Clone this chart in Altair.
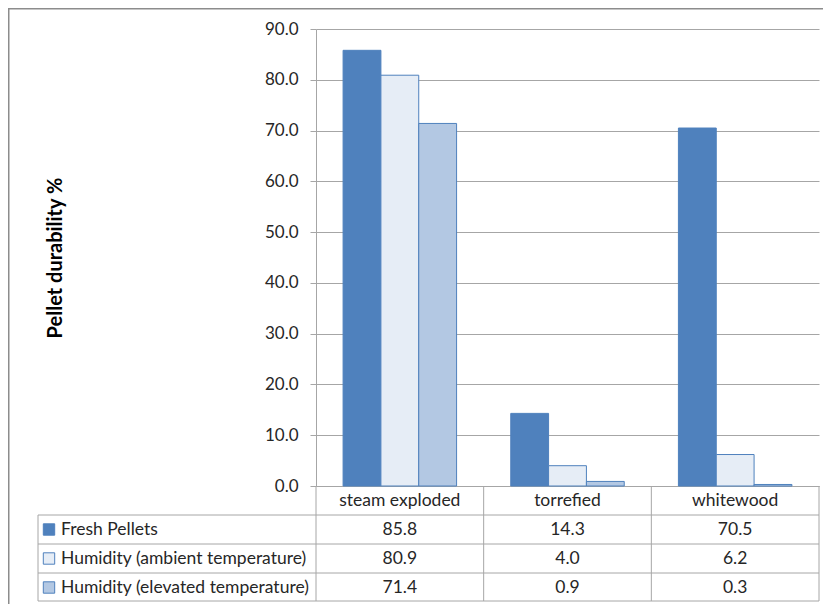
import altair as alt
import pandas as pd

categories = ["steam exploded", "torrefied", "whitewood"]
series = ["Fresh Pellets", "Humidity (ambient temperature)", "Humidity (elevated temperature)"]
fresh = [85.8, 14.3, 70.5]
ambient = [80.9, 4.0, 6.2]
elevated = [71.4, 0.9, 0.3]
y_ticks = [0, 10, 20, 30, 40, 50, 60, 70, 80, 90]

rows = []
for s, vals in zip(series, [fresh, ambient, elevated]):
    for c, v in zip(categories, vals):
        rows.append({"category": c, "series": s, "value": v})
df = pd.DataFrame(rows)
cat_df = pd.DataFrame({"category": categories})
ser_df = pd.DataFrame({"series": series})

W, H = 503, 457
FONT = "Lato"
BLUE = "#4f81bd"
GRID = "#a6a6a6"
TXT = "#262626"
fills = [BLUE, "#e6edf6", "#b3c8e3"]

fill_scale = alt.Scale(domain=series, range=fills)
x_scale = alt.Scale(domain=categories, paddingInner=0, paddingOuter=0)
row_scale = alt.Scale(domain=series, range=[H + 43.5, H + 101.5], padding=0)

bars = alt.Chart(df).mark_bar(stroke=BLUE, strokeWidth=1).encode(
    x=alt.X("category:N", sort=categories, scale=x_scale,
            axis=alt.Axis(title=None, labelAngle=0, ticks=False, domainColor=GRID,
                          labelFontSize=17.5, labelFont=FONT, labelColor=TXT,
                          labelPadding=5, grid=False)),
    xOffset=alt.XOffset("series:N", sort=series,
                        scale=alt.Scale(domain=series, paddingInner=0, paddingOuter=0.716)),
    y=alt.Y("value:Q", scale=alt.Scale(domain=[0, 90], nice=False),
            axis=alt.Axis(values=y_ticks, format=".1f", grid=True, gridColor=GRID,
                          domainColor=GRID, tickColor=GRID, tickSize=6,
                          labelPadding=12, labelFontSize=17, labelFont=FONT,
                          labelColor=TXT, title="Pellet durability %",
                          titleFont=FONT, titleFontSize=20, titleFontWeight="bold",
                          titleColor="#000000", titleX=-261, titleY=H / 2,
                          titleAngle=-90, titleBaseline="middle", titleAlign="center")),
    fill=alt.Fill("series:N", scale=fill_scale, legend=None),
)

base_one = alt.Chart(pd.DataFrame({"k": [0]}))

frame = base_one.mark_rect(fill=None, stroke="#8c8c8c", strokeWidth=1.5).encode(
    x=alt.value(-307.25), x2=alt.value(W + 40),
    y=alt.value(-20.25), y2=alt.value(H + 200),
)

vlines = alt.Chart(cat_df).mark_rule(color=GRID, strokeWidth=1).encode(
    x=alt.X("category:N", sort=categories, scale=x_scale, bandPosition=0),
    y=alt.value(H), y2=alt.value(H + 115),
)
vright = base_one.mark_rule(color=GRID, strokeWidth=1).encode(
    x=alt.value(W), y=alt.value(H), y2=alt.value(H + 115),
)
vleft = base_one.mark_rule(color=GRID, strokeWidth=1).encode(
    x=alt.value(-278), y=alt.value(H + 29), y2=alt.value(H + 115),
)
hlines = [
    base_one.mark_rule(color=GRID, strokeWidth=1).encode(
        x=alt.value(-278), x2=alt.value(W), y=alt.value(H + off))
    for off in [29, 58, 87, 115]
]

values_txt = alt.Chart(df).mark_text(font=FONT, fontSize=17.5, color=TXT, baseline="middle").encode(
    x=alt.X("category:N", sort=categories, scale=x_scale),
    y=alt.Y("series:N", scale=row_scale, axis=None),
    text=alt.Text("value:Q", format=".1f"),
)

leg_txt = alt.Chart(ser_df).mark_text(font=FONT, fontSize=17.5, color=TXT, align="left",
                                      baseline="middle").encode(
    x=alt.value(-255),
    y=alt.Y("series:N", scale=row_scale, axis=None),
    text="series:N",
)

leg_sq = alt.Chart(ser_df).mark_square(size=130, opacity=1, stroke=BLUE, strokeWidth=1).encode(
    x=alt.value(-267),
    y=alt.Y("series:N", scale=row_scale, axis=None),
    fill=alt.Fill("series:N", scale=fill_scale, legend=None),
)

chart = alt.layer(
    frame, bars, vlines, vright, vleft, *hlines, values_txt, leg_txt, leg_sq
).resolve_scale(y="independent").properties(
    width=W, height=H,
    autosize=alt.AutoSizeParams(type="none"),
    padding={"left": 308, "top": 21, "right": 4, "bottom": 118},
    background="white",
).configure_view(stroke=None)

chart.save("out.html", embed_options={"renderer": "svg", "actions": False})
